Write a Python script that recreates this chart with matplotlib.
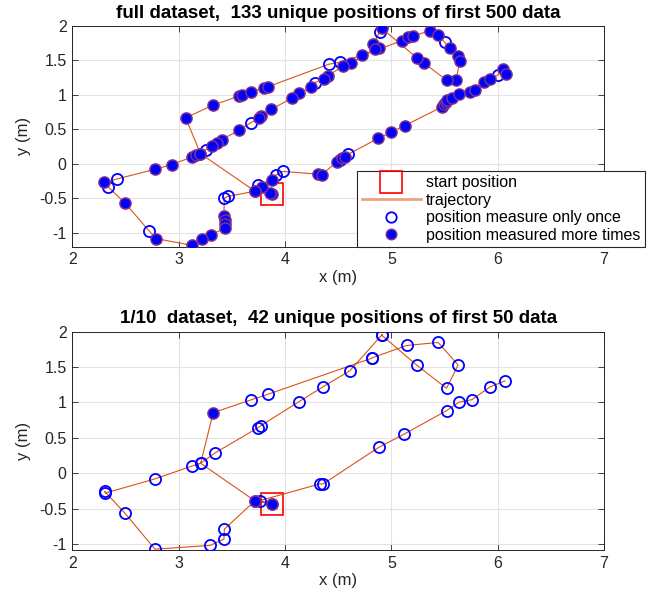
import matplotlib
matplotlib.use("Agg")
import matplotlib.pyplot as plt
from matplotlib.lines import Line2D
import numpy as np

plt.rcParams['font.family'] = ['Liberation Sans', 'DejaVu Sans']

# ---------------- data: full dataset (trajectory order, n = times measured) ----------------
top_x = [3.880, 3.858, 3.780, 3.717, 3.460, 3.430, 3.425, 3.432, 3.435, 3.435,
         3.300, 3.222, 3.125, 2.787, 2.724, 2.500, 2.338, 2.300, 2.420, 2.777,
         2.934, 3.125, 3.165, 3.205, 3.066, 3.325, 3.567, 3.600, 3.677, 3.800,
         3.842, 4.410, 4.520, 4.725, 5.096, 5.158, 5.205, 5.362, 5.440, 5.503,
         5.550, 5.628, 5.644, 5.610, 5.519, 5.305, 5.237, 4.912, 4.890, 4.830,
         4.885, 4.845, 4.620, 4.547, 4.400, 4.369, 4.281, 4.243, 4.133, 4.062,
         3.868, 3.773, 3.755, 3.680, 3.567, 3.404, 3.357, 3.310, 3.255, 3.205,
         3.717, 3.748, 3.874, 3.912, 3.980, 4.310, 4.344, 4.490, 4.515, 4.540,
         4.565, 4.594, 4.876, 5.000, 5.127, 5.481, 5.494, 5.510, 5.525, 5.566,
         5.637, 5.738, 5.785, 5.872, 5.926, 6.000, 6.050, 6.076]
top_y = [-0.437, -0.415, -0.335, -0.395, -0.472, -0.495, -0.753, -0.815, -0.875, -0.932,
         -1.029, -1.095, -1.180, -1.082, -0.975, -0.573, -0.335, -0.268, -0.218, -0.078,
         -0.010, 0.100, 0.135, 0.150, 0.669, 0.853, 0.984, 0.998, 1.040, 1.100,
         1.120, 1.445, 1.475, 1.576, 1.785, 1.834, 1.857, 1.930, 1.867, 1.761,
         1.688, 1.566, 1.493, 1.215, 1.215, 1.465, 1.543, 1.965, 1.910, 1.740,
         1.674, 1.664, 1.465, 1.420, 1.275, 1.237, 1.179, 1.115, 1.023, 0.950,
         0.790, 0.693, 0.659, 0.600, 0.485, 0.354, 0.306, 0.260, 0.208, 0.150,
         -0.395, -0.310, -0.229, -0.165, -0.108, -0.148, -0.156, 0.030, 0.055, 0.087,
         0.100, 0.140, 0.370, 0.460, 0.557, 0.830, 0.863, 0.893, 0.922, 0.961,
         1.009, 1.042, 1.067, 1.188, 1.227, 1.285, 1.373, 1.310]
top_n = [2, 2, 2, 2, 1, 1, 2, 2, 2, 2,
         2, 2, 2, 2, 1, 2, 1, 2, 1, 2,
         2, 2, 2, 2, 2, 2, 2, 2, 2, 2,
         2, 1, 1, 2, 2, 2, 2, 2, 2, 1,
         2, 2, 2, 2, 2, 2, 2, 2, 1, 2,
         2, 2, 2, 2, 2, 2, 1, 2, 2, 2,
         2, 2, 2, 1, 2, 2, 2, 2, 1, 2,
         2, 1, 2, 1, 1, 2, 2, 2, 1, 2,
         2, 1, 2, 2, 2, 2, 2, 2, 2, 2,
         2, 2, 2, 2, 2, 1, 2, 2]

# ---------------- data: 1/10 dataset ----------------
bot_x = [3.874, 3.717, 3.430, 3.426, 3.297, 2.777, 2.495, 2.305, 2.312, 2.777,
         3.128, 3.207, 3.325, 3.677, 3.842, 4.814, 4.822, 5.143, 5.440, 5.628,
         5.519, 5.237, 4.908, 4.914, 4.610, 4.359, 4.131, 3.773, 3.748, 3.340,
         3.207, 3.717, 3.874, 3.764, 4.328, 4.359, 4.883, 5.120, 5.519, 5.635,
         5.759, 5.926, 6.067]
bot_y = [-0.434, -0.391, -0.790, -0.930, -1.020, -1.073, -0.565, -0.258, -0.280, -0.080,
         0.103, 0.141, 0.856, 1.035, 1.117, 1.624, 1.632, 1.805, 1.848, 1.530,
         1.200, 1.530, 1.953, 1.960, 1.448, 1.223, 1.011, 0.672, 0.644, 0.285,
         0.141, -0.391, -0.434, -0.387, -0.151, -0.151, 0.367, 0.552, 0.884, 1.003,
         1.040, 1.218, 1.304]
bot_n = [2, 2, 1, 1, 1, 1, 1, 1, 1, 1,
         1, 1, 2, 1, 1, 1, 1, 1, 1, 1,
         1, 1, 1, 1, 1, 1, 1, 1, 1, 1,
         1, 2, 2, 1, 1, 1, 1, 1, 1, 1,
         1, 1, 1]

titles = ["full dataset,  133 unique positions of first 500 data",
          "1/10  dataset,  42 unique positions of first 50 data"]
x_ticks = [2, 3, 4, 5, 6, 7]
y_ticks = [-1, -0.5, 0, 0.5, 1, 1.5, 2]
y_tick_labels = ["-1", "-0.5", "0", "0.5", "1", "1.5", "2"]
legend_labels = ["start position", "trajectory",
                 "position measure only once", "position measured more times"]

LINE_C = '#D95319'
EDGE_P = '#7E2F8E'
AX_C = '#262626'
MS = 8.0

fig = plt.figure(figsize=(6.6, 5.98), dpi=100)
W, H = 660.0, 598.0
ax1 = fig.add_axes([72.3 / W, 1 - 246.7 / H, (604 - 72.3) / W, (246.7 - 26) / H])
ax2 = fig.add_axes([72.3 / W, 1 - 550 / H, (604 - 72.3) / W, (550 - 331.7) / H])


def draw(ax, xs, ys, ns, title, ylim):
    xs = np.array(xs); ys = np.array(ys); ns = np.array(ns)
    ax.plot(xs[0], ys[0], 's', ms=16.5, mfc='none', mec='red', mew=1.2, zorder=2)
    ax.plot(xs, ys, '-', color=LINE_C, lw=0.8, zorder=3)
    once = ns == 1
    ax.plot(xs[once], ys[once], 'o', ls='none', ms=MS, mfc='none', mec='blue', mew=1.3, zorder=4)
    ax.plot(xs[~once], ys[~once], 'o', ls='none', ms=MS, mfc='blue', mec=EDGE_P, mew=1.1, zorder=5)
    ax.set_xlim(2, 7)
    ax.set_ylim(*ylim)
    ax.set_xticks(x_ticks)
    ax.set_yticks(y_ticks)
    ax.set_yticklabels(y_tick_labels)
    ax.grid(True, color='#e3e3e3', lw=0.8)
    ax.set_axisbelow(True)
    ax.tick_params(direction='in', length=4, width=0.6, top=True, right=True,
                   labelsize=11.5, colors=AX_C, pad=4)
    for s in ax.spines.values():
        s.set_color(AX_C)
        s.set_linewidth(0.7)
    ax.set_xlabel("x (m)", fontsize=12, color=AX_C, labelpad=2)
    ax.set_ylabel("y (m)", fontsize=12, color=AX_C, labelpad=6)
    ax.set_title(title, fontsize=13.5, fontweight='bold', pad=6)


draw(ax1, top_x, top_y, top_n, titles[0], (-1.2, 2))
draw(ax2, bot_x, bot_y, bot_n, titles[1], (-1.085, 2))

handles = [
    Line2D([], [], marker='s', ls='none', ms=16.5, mfc='none', mec='red', mew=1.2),
    Line2D([], [], color='#EDA27E', lw=2),
    Line2D([], [], marker='o', ls='none', ms=7.5, mfc='none', mec='blue', mew=1.3),
    Line2D([], [], marker='o', ls='none', ms=7.5, mfc='blue', mec=EDGE_P, mew=1.1),
]
leg = fig.legend(handles, legend_labels, loc='upper left',
                 bbox_to_anchor=(357.3 / W, 1 - 170.7 / H), fontsize=11.5,
                 frameon=True, fancybox=False, framealpha=1, edgecolor=AX_C,
                 borderpad=0.28, labelspacing=0.16, handlelength=3.7,
                 handletextpad=0.3, borderaxespad=0)
leg.get_frame().set_linewidth(0.8)

fig.savefig("out.png", dpi=100)
